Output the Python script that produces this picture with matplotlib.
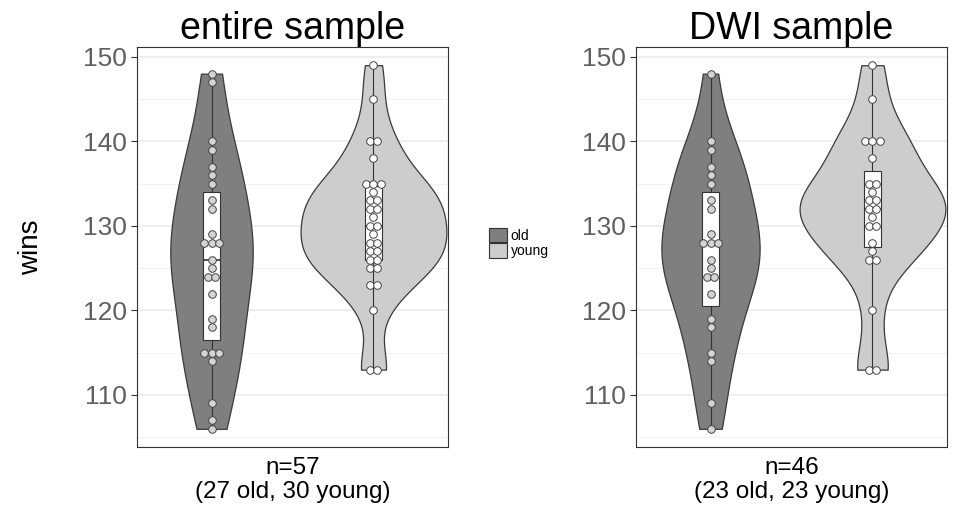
import numpy as np
import matplotlib.pyplot as plt
from matplotlib.patches import Patch

plt.rcParams['font.family'] = ['Liberation Sans', 'DejaVu Sans']

groups = ["old", "young"]
group_fill = {"old": "#7f7f7f", "young": "#cdcdcd"}
dot_fill = {"old": "#d4d4d4", "young": "#ffffff"}

# wins per subject
entire_old = [148, 147, 140, 139, 137, 136, 135, 133, 132, 129, 128, 128, 128,
              126, 125, 124, 124, 122, 119, 118, 115, 115, 115, 114, 109, 107, 106]
entire_young = [149, 145, 140, 140, 138, 135, 135, 135, 134, 133, 133, 132, 132,
                131, 130, 130, 129, 128, 128, 127, 127, 126, 126, 125, 125,
                123, 123, 120, 113, 113]
dwi_old = [148, 140, 139, 137, 136, 135, 133, 132, 129, 128, 128, 128,
           126, 125, 124, 124, 122, 119, 118, 115, 114, 109, 106]
dwi_young = [149, 145, 140, 140, 140, 138, 135, 135, 134, 133, 133, 132,
             132, 131, 130, 130, 128, 127, 126, 126, 120, 113, 113]

panel_titles = ["entire sample", "DWI sample"]
panel_xlabels = ["n=57\n(27 old, 30 young)", "n=46\n(23 old, 23 young)"]
panel_data = [[entire_old, entire_young], [dwi_old, dwi_young]]


def nrd0(x):
    x = np.asarray(x, float)
    q75, q25 = np.percentile(x, [75, 25])
    return 0.9 * min(x.std(ddof=1), (q75 - q25) / 1.34) * len(x) ** -0.2


def kde(x, grid):
    x = np.asarray(x, float)
    bw = nrd0(x)
    z = (grid[:, None] - x[None, :]) / bw
    return np.exp(-0.5 * z ** 2).sum(1) / (len(x) * bw * np.sqrt(2 * np.pi))


fig = plt.figure(figsize=(9.58, 5.14), dpi=100)
ax1 = fig.add_axes([137 / 958, 67 / 514, 311 / 958, 400 / 514])
ax2 = fig.add_axes([636 / 958, 67 / 514, 311 / 958, 400 / 514])

for ax, data, title, xlab in zip([ax1, ax2], panel_data, panel_titles, panel_xlabels):
    # violins, scaled by area within the panel
    grids = [np.linspace(min(d), max(d), 512) for d in data]
    dens = [kde(d, g) for d, g in zip(data, grids)]
    top = max(dd.max() for dd in dens)
    for i, (g, dd, name) in enumerate(zip(grids, dens, groups)):
        pos = i + 1
        half = 0.45 * dd / top
        ax.fill_betweenx(g, pos - half, pos + half, facecolor=group_fill[name],
                         edgecolor="#3a3a3a", linewidth=0.9, zorder=2)

    ax.boxplot(data, positions=[1, 2], widths=0.1, whis=(0, 100),
               patch_artist=True, showcaps=False, showfliers=False,
               boxprops=dict(facecolor="white", edgecolor="#333333", linewidth=0.8),
               whiskerprops=dict(color="#333333", linewidth=0.8),
               medianprops=dict(color="#333333", linewidth=1.2),
               zorder=3)

    # dots stacked sideways where values repeat
    for i, (d, name) in enumerate(zip(data, groups)):
        vals, counts = np.unique(d, return_counts=True)
        for v, c in zip(vals, counts):
            xs = i + 1 + (np.arange(c) - (c - 1) / 2) * 0.045
            ax.scatter(xs, [v] * c, s=30, facecolor=dot_fill[name],
                       edgecolor="#444444", linewidth=0.7, zorder=4)

    ax.set_xlim(0.54, 2.46)
    ax.set_ylim(103.85, 151.15)
    ax.set_yticks([110, 120, 130, 140, 150])
    ax.set_yticks([105, 115, 125, 135, 145], minor=True)
    ax.grid(True, which="major", axis="y", color="#ebebeb", linewidth=1.1, zorder=0)
    ax.grid(True, which="minor", axis="y", color="#f2f2f2", linewidth=0.8, zorder=0)
    ax.set_axisbelow(True)
    ax.set_xticks([])
    ax.tick_params(axis="y", which="major", labelsize=19, labelcolor="#606060",
                   color="#333333", length=4, width=0.8, pad=3)
    ax.tick_params(axis="y", which="minor", length=0)
    for sp in ax.spines.values():
        sp.set_color("#333333")
        sp.set_linewidth(0.8)
    ax.set_title(title, fontsize=27, pad=6)
    ax.set_xlabel(xlab, fontsize=17.5, labelpad=7, linespacing=1.15)

ax1.set_ylabel("wins", fontsize=20, labelpad=28)

handles = [Patch(facecolor=group_fill[g], edgecolor="#333333", linewidth=0.8) for g in groups]
fig.legend(handles, groups, loc="center left", bbox_to_anchor=(483 / 958, 1 - 243 / 514),
           frameon=False, fontsize=10, handlelength=1.3, handleheight=1.2,
           handletextpad=0.3, labelspacing=0.05, borderaxespad=0)

fig.savefig("out.png", dpi=100)
